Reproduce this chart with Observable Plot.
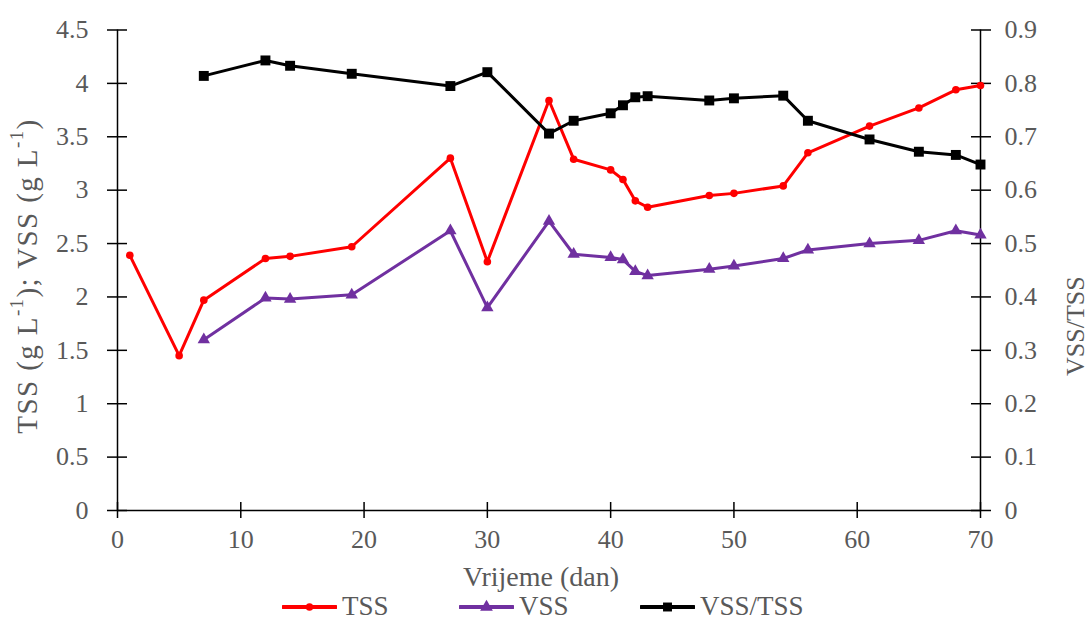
<!DOCTYPE html>
<html>
<head>
<meta charset="utf-8">
<script src="https://cdn.jsdelivr.net/npm/d3@7"></script>
<script src="https://cdn.jsdelivr.net/npm/@observablehq/plot@0.6"></script>
<style>
  body { margin: 0; background: #fff; font-family: "Liberation Serif", "DejaVu Serif", "Noto Serif", serif; }
  #wrap { position: relative; width: 1090px; height: 621px; overflow: hidden; }
  .leg { position: absolute; top: 593px; height: 27px; line-height: 27px; display: flex; align-items: center; font-size: 27px; color: #595959; white-space: nowrap; }
  .leg svg { margin-right: 5px; }
</style>
</head>
<body>
<div id="wrap"></div>
<script>
// ---- data ----
const tssDays   = [1, 5, 7, 12, 14, 19, 27, 30, 35, 37, 40, 41, 42, 43, 48, 50, 54, 56, 61, 65, 68, 70];
const tssValues = [2.39, 1.45, 1.97, 2.36, 2.38, 2.47, 3.30, 2.33, 3.84, 3.29, 3.19, 3.10, 2.90, 2.84, 2.95, 2.97, 3.04, 3.35, 3.60, 3.77, 3.94, 3.98];

const vssDays   = [7, 12, 14, 19, 27, 30, 35, 37, 40, 41, 42, 43, 48, 50, 54, 56, 61, 65, 68, 70];
const vssValues = [1.60, 1.99, 1.98, 2.02, 2.62, 1.90, 2.71, 2.40, 2.37, 2.35, 2.24, 2.20, 2.26, 2.29, 2.36, 2.44, 2.50, 2.53, 2.62, 2.58];

const ratioDays   = [7, 12, 14, 19, 27, 30, 35, 37, 40, 41, 42, 43, 48, 50, 54, 56, 61, 65, 68, 70];
const ratioValues = [0.814, 0.843, 0.833, 0.818, 0.795, 0.821, 0.706, 0.730, 0.744, 0.759, 0.774, 0.776, 0.768, 0.772, 0.777, 0.730, 0.695, 0.672, 0.666, 0.648];

const xTicks      = [0, 10, 20, 30, 40, 50, 60, 70];
const leftTicks   = [0, 0.5, 1, 1.5, 2, 2.5, 3, 3.5, 4, 4.5];
const rightTicks  = [0, 0.1, 0.2, 0.3, 0.4, 0.5, 0.6, 0.7, 0.8, 0.9];

const xLabel     = "Vrijeme (dan)";
const rightLabel = "VSS/TSS";
const seriesNames = ["TSS", "VSS", "VSS/TSS"];
const colors = ["#FF0000", "#7030A0", "#000000"];

// right axis maps 0..0.9 onto left axis 0..4.5
const K = 4.5 / 0.9;

const tss   = tssDays.map((d, i) => ({day: d, v: tssValues[i]}));
const vss   = vssDays.map((d, i) => ({day: d, v: vssValues[i]}));
const ratio = ratioDays.map((d, i) => ({day: d, v: ratioValues[i] * K}));

const txt = "#595959";
const FONT = '"Liberation Serif", "DejaVu Serif", "Noto Serif", serif';

const chart = Plot.plot({
  width: 1090,
  height: 590,
  marginLeft: 117,
  marginRight: 110,
  marginTop: 29.5,
  marginBottom: 80,
  style: {fontFamily: FONT, fontSize: "26px", color: "black", background: "white", overflow: "visible"},
  x: {domain: [0, 70]},
  y: {domain: [0, 4.5]},
  marks: [
    Plot.ruleX([0, 70], {stroke: "black", strokeWidth: 1.5}),
    Plot.ruleY([0], {stroke: "black", strokeWidth: 1.5}),
    Plot.axisX({ticks: xTicks, tickSize: 16, dy: -8, tickPadding: 11, tickFormat: d => String(d), label: null, fill: txt, stroke: "black", strokeWidth: 1.5}),
    Plot.axisY({anchor: "left", ticks: leftTicks, tickSize: 20, dx: 10, tickPadding: 19, tickFormat: d => String(d), label: null, fill: txt, stroke: "black", strokeWidth: 1.5}),
    Plot.axisY({anchor: "right", ticks: rightTicks.map(t => t * K), tickSize: 20, dx: -10, tickPadding: 14, tickFormat: d => String(+(d / K).toFixed(1)), label: null, fill: txt, stroke: "black", strokeWidth: 1.5}),
    Plot.line(tss, {x: "day", y: "v", stroke: colors[0], strokeWidth: 3}),
    Plot.dot(tss, {x: "day", y: "v", r: 3.8, fill: colors[0], symbol: "circle"}),
    Plot.line(vss, {x: "day", y: "v", stroke: colors[1], strokeWidth: 3}),
    Plot.dot(vss, {x: "day", y: "v", r: 4.6, fill: colors[1], symbol: "triangle"}),
    Plot.line(ratio, {x: "day", y: "v", stroke: colors[2], strokeWidth: 3}),
    Plot.dot(ratio, {x: "day", y: "v", r: 5.6, fill: colors[2], symbol: "square"}),
    Plot.text([xLabel], {frameAnchor: "bottom", dx: -8, dy: 75, fill: txt, fontSize: 28, letterSpacing: "0.5px"}),
    Plot.text([rightLabel], {frameAnchor: "right", dx: 95, dy: 6, rotate: -90, fill: txt, fontSize: 26, letterSpacing: "-0.8px"})
  ]
});

// left axis title with superscripts
const svg = d3.select(chart);
const lt = svg.append("text")
  .attr("transform", "translate(27,276) rotate(-90)")
  .attr("text-anchor", "middle")
  .attr("dominant-baseline", "central")
  .attr("fill", txt)
  .style("font-family", FONT)
  .style("font-size", "29px")
  .style("letter-spacing", "1.4px");
const parts = [["TSS (g L", false], ["-1", true], ["); VSS (g L", false], ["-1", true], [")", false]];
for (const [s, sup] of parts) {
  const ts = lt.append("tspan").text(s);
  if (sup) ts.attr("baseline-shift", "super").style("font-size", "19px");
}

const wrap = document.getElementById("wrap");
wrap.appendChild(chart);

// legend (HTML, below the svg)
const legLeft = [282, 459, 640];
const symbols = [d3.symbolCircle, d3.symbolTriangle, d3.symbolSquare];
const symSizes = [45, 70, 80];
seriesNames.forEach((name, i) => {
  const item = document.createElement("div");
  item.className = "leg";
  item.style.left = legLeft[i] + "px";
  const s = d3.create("svg").attr("width", 55).attr("height", 20);
  s.append("line").attr("x1", 1).attr("x2", 54).attr("y1", 10).attr("y2", 10).attr("stroke", colors[i]).attr("stroke-width", 4).attr("stroke-linecap", "round");
  s.append("path").attr("d", d3.symbol(symbols[i], symSizes[i])()).attr("transform", "translate(27.5,10)").attr("fill", colors[i]);
  item.appendChild(s.node());
  const t = document.createElement("span");
  t.textContent = name;
  item.appendChild(t);
  wrap.appendChild(item);
});
</script>
</body>
</html>
